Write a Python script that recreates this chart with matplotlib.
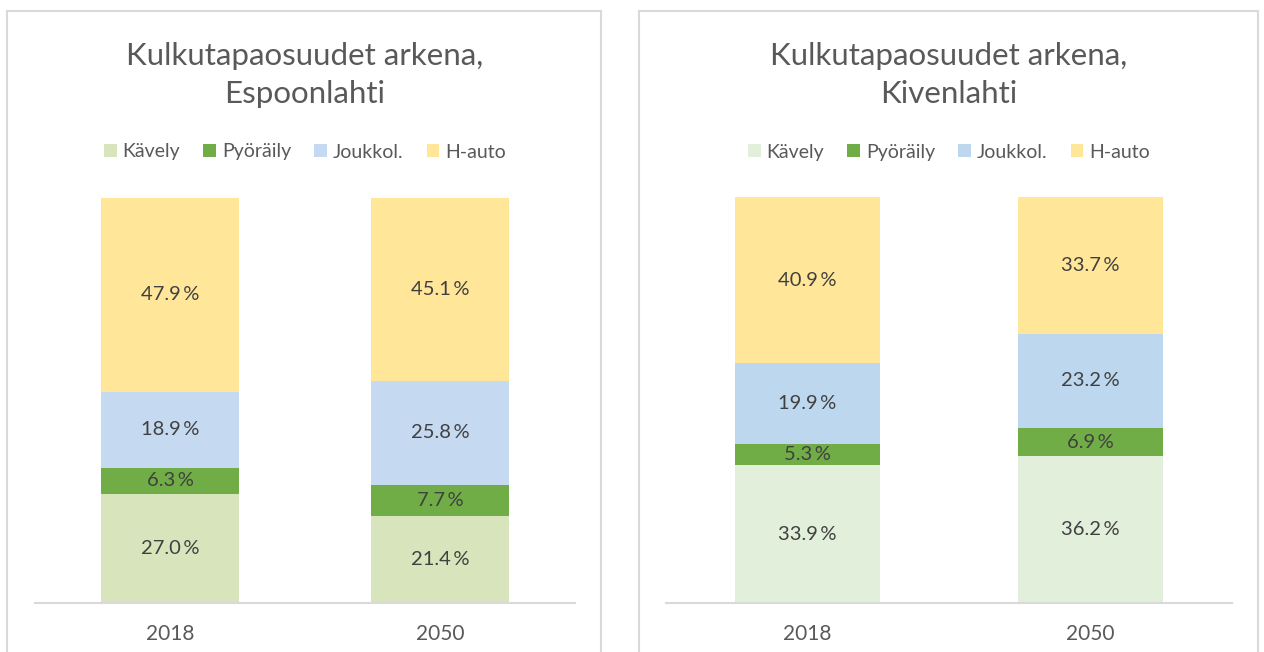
import matplotlib.pyplot as plt
from matplotlib.patches import Rectangle

plt.rcParams['font.family'] = ['Lato', 'DejaVu Sans']

years = ['2018', '2050']
modes = ['Kävely', 'Pyöräily', 'Joukkol.', 'H-auto']

# Espoonlahti
espoonlahti = {
    'Kävely': [27.0, 21.4],
    'Pyöräily': [6.3, 7.7],
    'Joukkol.': [18.9, 25.8],
    'H-auto': [47.9, 45.1],
}
# Kivenlahti
kivenlahti = {
    'Kävely': [33.9, 36.2],
    'Pyöräily': [5.3, 6.9],
    'Joukkol.': [19.9, 23.2],
    'H-auto': [40.9, 33.7],
}

colors_left = ['#D8E4BC', '#70AD47', '#C5D9F1', '#FFE699']
colors_right = ['#E2EFDA', '#70AD47', '#BDD7EE', '#FFE699']

W, H = 1264, 652
fig = plt.figure(figsize=(W / 100, H / 100), dpi=100)

# panel borders (pixel coords from top-left)
for x0, x1 in [(7, 601), (639, 1258)]:
    fig.patches.append(Rectangle((x0 / W, -0.1), (x1 - x0) / W, (H - 11) / H + 0.1,
                                 transform=fig.transFigure, fill=False,
                                 edgecolor='#D9D9D9', linewidth=1.5))


def draw_panel(rect, data, colors, place):
    left, right, top, base = rect
    ax = fig.add_axes([left / W, (H - base) / H, (right - left) / W, (base - top) / H])
    bottom = [0, 0]
    for mode, col in zip(modes, colors):
        vals = data[mode]
        bars = ax.bar(years, vals, bottom=bottom, width=0.51, color=col, label=mode)
        for b, v, b0 in zip(bars, vals, bottom):
            ax.text(b.get_x() + b.get_width() / 2, b0 + v / 2, f'{v:.1f}\u2009%',
                    ha='center', va='center', fontsize=14.5, color='#404040')
        bottom = [a + v for a, v in zip(bottom, vals)]
    ax.set_ylim(0, 100)
    ax.set_xlim(-0.5, 1.5)
    ax.set_yticks([])
    for s in ['top', 'right', 'left']:
        ax.spines[s].set_visible(False)
    ax.spines['bottom'].set_color('#D9D9D9')
    ax.spines['bottom'].set_linewidth(1.5)
    ax.tick_params(axis='x', length=0, pad=15, labelsize=15, labelcolor='#595959')

    h = base - top
    ax.text(0.5, (base - 56) / h, 'Kulkutapaosuudet arkena,', transform=ax.transAxes,
            ha='center', va='center', fontsize=22.5, color='#595959')
    ax.text(0.5, (base - 94) / h, place, transform=ax.transAxes,
            ha='center', va='center', fontsize=22.5, color='#595959')
    ax.legend(loc='center', bbox_to_anchor=(0.5, (base - 152) / h), ncol=4,
              frameon=False, fontsize=14, labelcolor='#595959',
              handlelength=0.65, handleheight=0.65, handletextpad=0.3,
              columnspacing=1.2)


draw_panel((35, 575, 198, 603), espoonlahti, colors_left, 'Espoonlahti')
draw_panel((666, 1232, 197, 603), kivenlahti, colors_right, 'Kivenlahti')

fig.savefig('out.png', dpi=100)
